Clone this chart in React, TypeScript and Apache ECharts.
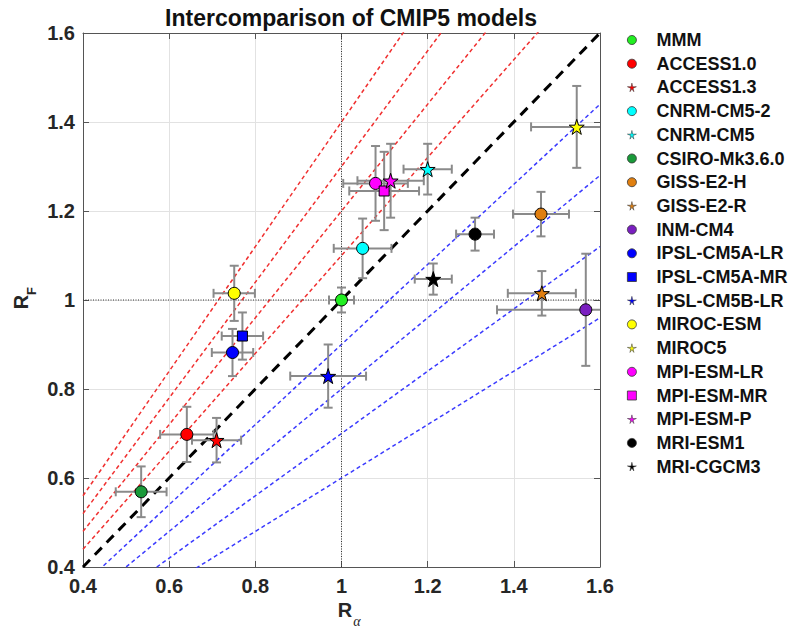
import React, { useEffect, useRef } from "react";
import * as echarts from "echarts";

const models = [
  "MMM", "ACCESS1.0", "ACCESS1.3", "CNRM-CM5-2", "CNRM-CM5", "CSIRO-Mk3.6.0",
  "GISS-E2-H", "GISS-E2-R", "INM-CM4", "IPSL-CM5A-LR", "IPSL-CM5A-MR",
  "IPSL-CM5B-LR", "MIROC-ESM", "MIROC5", "MPI-ESM-LR", "MPI-ESM-MR",
  "MPI-ESM-P", "MRI-ESM1", "MRI-CGCM3",
];
const rAlpha = [1.0, 0.641, 0.71, 1.049, 1.2, 0.535, 1.463, 1.465, 1.567, 0.747, 0.77, 0.969, 0.751, 1.546, 1.079, 1.099, 1.114, 1.31, 1.213];
const rF = [1.0, 0.698, 0.685, 1.116, 1.294, 0.569, 1.193, 1.015, 0.978, 0.882, 0.919, 0.829, 1.015, 1.389, 1.262, 1.245, 1.268, 1.148, 1.047];
const rAlphaErr = [0.029, 0.062, 0.057, 0.067, 0.056, 0.059, 0.065, 0.079, 0.206, 0.048, 0.048, 0.088, 0.048, 0.106, 0.075, 0.081, 0.077, 0.044, 0.043];
const rFErr = [0.028, 0.062, 0.05, 0.067, 0.057, 0.057, 0.05, 0.05, 0.126, 0.053, 0.053, 0.071, 0.062, 0.092, 0.084, 0.088, 0.083, 0.037, 0.035];
const colors = [
  "#22ee22", "#ff0000", "#ff0000", "#00ffff", "#00ffff", "#1a9a3a",
  "#e07f10", "#e07f10", "#7a1fc0", "#0000ff", "#0000ff", "#0000ff",
  "#ffff00", "#ffff00", "#ff00ff", "#ff00ff", "#ff00ff", "#000000", "#000000",
];
const markers = [
  "circle", "circle", "star", "circle", "star", "circle", "circle", "star",
  "circle", "circle", "square", "star", "circle", "star", "circle", "square",
  "star", "circle", "star",
];

const redSlopes = [1.1, 1.2, 1.3, 1.4];
const blueSlopes = [0.9, 0.8, 0.7, 0.6];
const identitySlope = [1];
const refValue = 1;
const axisMin = 0.4;
const axisMax = 1.6;
const axisStep = 0.2;

const STAR =
  "path://M50,0 L61.8,35.1 L98.1,35.1 L68.8,56.7 L79.4,91 L50,70 L20.6,91 L31.2,56.7 L1.9,35.1 L38.2,35.1 Z";
const STAR_SMALL =
  "path://M50,-20 L61.8,35.1 L118,35.1 L68.8,56.7 L79.4,111 L50,70 L20.6,111 L31.2,56.7 L-18,35.1 L38.2,35.1 Z";

const FONT = "'Liberation Sans', Arial, Helvetica, sans-serif";

function symbolFor(m: string) {
  if (m === "star") return STAR;
  if (m === "square") return "rect";
  return "circle";
}
function sizeFor(m: string) {
  if (m === "star") return 15;
  if (m === "square") return 10;
  return 12;
}

export default function App() {
  const ref = useRef<HTMLDivElement>(null);
  useEffect(() => {
    if (!ref.current) return;
    const chart = echarts.init(ref.current, undefined, { renderer: "svg" });

    const slopeLine = (k: number, color: string, width: number, dash: number[]) => ({
      type: "line",
      data: [
        [axisMin, axisMin * k],
        [axisMax, axisMax * k],
      ],
      symbol: "none",
      clip: true,
      silent: true,
      lineStyle: { color, width, type: dash },
      z: 1,
    });

    const series: any[] = [];
    redSlopes.forEach((k) => series.push(slopeLine(k, "#f03030", 1.5, [4, 3])));
    blueSlopes.forEach((k) => series.push(slopeLine(k, "#3a3aff", 1.5, [4, 3])));
    identitySlope.forEach((k) => series.push(slopeLine(k, "#000000", 3, [10, 7])));
    series.push({
      type: "line",
      data: [
        [refValue, axisMin],
        [refValue, axisMax],
      ],
      symbol: "none",
      silent: true,
      lineStyle: { color: "#333", width: 1, type: [1, 1.5] },
      z: 1,
    });
    series.push({
      type: "line",
      data: [
        [axisMin, refValue],
        [axisMax, refValue],
      ],
      symbol: "none",
      silent: true,
      lineStyle: { color: "#333", width: 1, type: [1, 1.5] },
      z: 1,
    });

    series.push({
      type: "custom",
      clip: true,
      silent: true,
      z: 3,
      data: models.map((_, i) => [rAlpha[i], rF[i], rAlphaErr[i], rFErr[i]]),
      renderItem: (params: any, api: any) => {
        const x = api.value(0);
        const y = api.value(1);
        const ex = api.value(2);
        const ey = api.value(3);
        const l = api.coord([x - ex, y]);
        const r = api.coord([x + ex, y]);
        const t = api.coord([x, y + ey]);
        const b = api.coord([x, y - ey]);
        const c = 4.5;
        const style = { stroke: "#8a8a8a", lineWidth: 2 };
        return {
          type: "group",
          children: [
            { type: "line", shape: { x1: l[0], y1: l[1], x2: r[0], y2: r[1] }, style },
            { type: "line", shape: { x1: t[0], y1: t[1], x2: b[0], y2: b[1] }, style },
            { type: "line", shape: { x1: l[0], y1: l[1] - c, x2: l[0], y2: l[1] + c }, style },
            { type: "line", shape: { x1: r[0], y1: r[1] - c, x2: r[0], y2: r[1] + c }, style },
            { type: "line", shape: { x1: t[0] - c, y1: t[1], x2: t[0] + c, y2: t[1] }, style },
            { type: "line", shape: { x1: b[0] - c, y1: b[1], x2: b[0] + c, y2: b[1] }, style },
          ],
        };
      },
    });

    models.forEach((name, i) => {
      series.push({
        type: "scatter",
        name,
        data: [[rAlpha[i], rF[i]]],
        symbol: symbolFor(markers[i]),
        symbolSize: sizeFor(markers[i]),
        itemStyle: { color: colors[i], borderColor: "#000", borderWidth: 1, opacity: 1 },
        z: 4,
      });
    });

    const legendData = models.map((name, i) => ({
      name,
      icon: markers[i] === "star" ? STAR_SMALL : markers[i] === "square" ? "path://M15,15 L85,15 L85,85 L15,85 Z" : "circle",
      itemStyle: { color: colors[i], borderColor: "#333", borderWidth: markers[i] === "star" ? 0.5 : 0.8 },
    }));

    const labelFmt = (v: number) => String(parseFloat(v.toFixed(1)));
    const axisCommon = {
      type: "value",
      min: axisMin,
      max: axisMax,
      interval: axisStep,
      axisLine: { show: true, onZero: false, lineStyle: { color: "#555", width: 1 } },
      axisTick: { show: true, inside: true, length: 6, lineStyle: { color: "#555" } },
    };

    chart.setOption({
      animation: false,
      backgroundColor: "#fff",
      title: {
        text: "Intercomparison of CMIP5 models",
        left: 351,
        textAlign: "center",
        top: 6,
        padding: 0,
        textStyle: { fontFamily: FONT, fontSize: 23, fontWeight: "bold", color: "#111" },
      },
      grid: { left: 83, top: 33, width: 517, height: 534, containLabel: false },
      xAxis: [
        {
          ...axisCommon,
          position: "bottom",
          axisLabel: {
            formatter: labelFmt,
            margin: 9,
            fontFamily: FONT,
            fontSize: 20,
            fontWeight: "bold",
            color: "#262626",
          },
          splitLine: { show: true, lineStyle: { color: "#e2e2e2", width: 1 } },
        },
        {
          ...axisCommon,
          position: "top",
          axisLabel: { show: false },
          splitLine: { show: false },
        },
      ],
      yAxis: [
        {
          ...axisCommon,
          position: "left",
          axisLabel: {
            formatter: labelFmt,
            margin: 8,
            fontFamily: FONT,
            fontSize: 20,
            fontWeight: "bold",
            color: "#262626",
          },
          splitLine: { show: true, lineStyle: { color: "#e2e2e2", width: 1 } },
        },
        {
          ...axisCommon,
          position: "right",
          axisLabel: { show: false },
          splitLine: { show: false },
        },
      ],
      legend: {
        orient: "vertical",
        left: 627,
        top: 31,
        padding: 0,
        itemWidth: 9,
        itemHeight: 9,
        itemGap: 5.7,
        data: legendData,
        selectedMode: false,
        textStyle: {
          fontFamily: FONT,
          fontSize: 18,
          fontWeight: "bold",
          color: "#111",
          lineHeight: 18,
          padding: [0, 0, 0, 15],
        },
      },
      graphic: [
        {
          type: "text",
          x: 345,
          y: 610,
          style: { text: "R", font: `bold 20px ${FONT}`, fill: "#262626", align: "center", verticalAlign: "middle" },
        },
        {
          type: "text",
          x: 357,
          y: 621,
          style: { text: "α", font: `italic 14px 'Liberation Serif', 'DejaVu Serif', serif`, fill: "#262626", align: "center", verticalAlign: "middle" },
        },
        {
          type: "text",
          x: 21,
          y: 302,
          rotation: Math.PI / 2,
          style: { text: "R", font: `bold 20px ${FONT}`, fill: "#262626", align: "center", verticalAlign: "middle" },
        },
        {
          type: "text",
          x: 31,
          y: 291,
          rotation: Math.PI / 2,
          style: { text: "F", font: `bold 13px ${FONT}`, fill: "#262626", align: "center", verticalAlign: "middle" },
        },
      ],
      series,
    });

    return () => chart.dispose();
  }, []);

  return (
    <div
      ref={ref}
      style={{ position: "absolute", left: 0, top: 0, width: 808, height: 630 }}
    />
  );
}
